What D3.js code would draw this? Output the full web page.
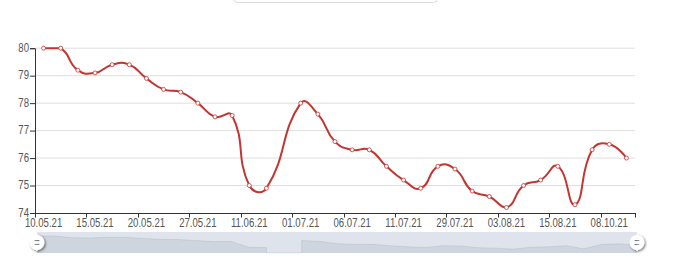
<!DOCTYPE html>
<html>
<head>
<meta charset="utf-8">
<script src="https://cdnjs.cloudflare.com/ajax/libs/d3/7.8.5/d3.min.js"></script>
<style>
  html, body { margin: 0; padding: 0; background: #fff; }
  svg { display: block; }
  .lbl { font-family: "Liberation Sans", Arial, sans-serif; fill: #555; }
</style>
</head>
<body>
<div id="chart"></div>
<script>

// category labels (dates) and values, index 14 has no value
var dates = [
    "10.05.21", "11.05.21", "13.05.21", "15.05.21", "17.05.21", "18.05.21",
    "20.05.21", "22.05.21", "25.05.21", "27.05.21", "01.06.21", "07.06.21",
    "11.06.21", "15.06.21", "24.06.21", "01.07.21", "03.07.21", "05.07.21",
    "06.07.21", "08.07.21", "09.07.21", "11.07.21", "19.07.21", "26.07.21",
    "29.07.21", "30.07.21", "01.08.21", "03.08.21", "07.08.21", "12.08.21",
    "15.08.21", "20.08.21", "27.09.21", "08.10.21", "12.10.21"
];
var values = [
    80, 80, 79.2, 79.1, 79.4, 79.4,
    78.9, 78.5, 78.4, 78.0, 77.5, 77.55,
    75.0, 74.9, null, 78.0, 77.6, 76.6,
    76.3, 76.3, 75.7, 75.2, 74.9, 75.7,
    75.6, 74.8, 74.6, 74.2, 75.0, 75.2,
    75.7, 74.3, 76.3, 76.5, 76.0
];
var yTicks = [74, 75, 76, 77, 78, 79, 80];
var labelEvery = 3;

var W = 680, H = 256,
    gLeft = 35, gRight = 635, gTop = 48.2, gBottom = 213,
    lineColor = "#c23531",
    squeeze = 0.8;

var svg = d3.select("#chart").append("svg")
    .attr("width", W)
    .attr("height", H);

var defs = svg.append("defs");
var f = defs.append("filter").attr("id", "hshadow")
    .attr("x", "-50%").attr("y", "-50%").attr("width", "200%").attr("height", "200%");
f.append("feDropShadow")
    .attr("dx", 1.5).attr("dy", 1.5).attr("stdDeviation", 1.3)
    .attr("flood-color", "#000").attr("flood-opacity", 0.55);

// box cut off at the top of the picture
svg.append("rect")
    .attr("x", 233.5).attr("y", -20).attr("width", 204).attr("height", 22.5)
    .attr("rx", 4)
    .attr("fill", "#fff").attr("stroke", "#dcdcdc");

var x = d3.scaleBand()
    .domain(d3.range(dates.length))
    .range([gLeft, gRight])
    .padding(0);

var y = d3.scaleLinear()
    .domain([74, 80])
    .range([gBottom, gTop]);

// grid lines
svg.append("g").selectAll("line")
    .data(yTicks.filter(function (d) { return d != 74; }))
    .enter().append("line")
    .attr("x1", gLeft).attr("x2", gRight)
    .attr("y1", function (d) { return y(d); })
    .attr("y2", function (d) { return y(d); })
    .attr("stroke", "#dedede")
    .attr("stroke-width", 1);

// y axis
var yAxis = d3.axisLeft(y).tickValues(yTicks).tickSize(5).tickFormat(function () { return ""; });
var gy = svg.append("g")
    .attr("transform", "translate(" + gLeft + ",0)")
    .call(yAxis);
gy.select(".domain").attr("stroke", "#333");
gy.selectAll(".tick line").attr("stroke", "#333");
svg.append("g").selectAll("g")
    .data(yTicks)
    .enter().append("g")
    .attr("transform", function (d) { return "translate(" + (gLeft - 6) + "," + (y(d) - 0.5) + ") scale(" + squeeze + ",1)"; })
    .append("text")
    .attr("class", "lbl")
    .attr("text-anchor", "end")
    .attr("dy", "0.35em")
    .style("font-size", "12px")
    .text(function (d) { return d; });

// x axis: ticks on band boundaries, labels in band centers
var boundaries = d3.range(0, dates.length, labelEvery).map(function (i) { return x(i); });
boundaries.push(gRight);
var gx = svg.append("g");
gx.append("line")
    .attr("x1", gLeft).attr("x2", gRight)
    .attr("y1", gBottom + 0.5).attr("y2", gBottom + 0.5)
    .attr("stroke", "#333");
gx.selectAll(".tk").data(boundaries).enter().append("line")
    .attr("class", "tk")
    .attr("x1", function (d) { return Math.round(d) + 0.5; })
    .attr("x2", function (d) { return Math.round(d) + 0.5; })
    .attr("y1", gBottom).attr("y2", gBottom + 4.5)
    .attr("stroke", "#333");
gx.selectAll("g.xl")
    .data(d3.range(0, dates.length, labelEvery))
    .enter().append("g")
    .attr("class", "xl")
    .attr("transform", function (i) { return "translate(" + (x(i) + x.bandwidth() / 2) + "," + (gBottom + 14) + ") scale(" + squeeze + ",1)"; })
    .append("text")
    .attr("class", "lbl")
    .attr("text-anchor", "middle")
    .style("font-size", "12px")
    .text(function (i) { return dates[i]; });

// points in pixels, nulls skipped (connectNulls)
var pts = [];
values.forEach(function (v, i) {
    if (v != null) pts.push([x(i) + x.bandwidth() / 2, y(v), i]);
});

// smooth curve like echarts (smooth 0.5, bounding box constraint)
function smoothPath(p, smooth) {
    var minX = d3.min(p, function (d) { return d[0]; }), maxX = d3.max(p, function (d) { return d[0]; }),
        minY = d3.min(p, function (d) { return d[1]; }), maxY = d3.max(p, function (d) { return d[1]; });
    function clamp(c) {
        return [Math.max(minX, Math.min(maxX, c[0])), Math.max(minY, Math.min(maxY, c[1]))];
    }
    var path = d3.path();
    path.moveTo(p[0][0], p[0][1]);
    var cp0 = [p[0][0], p[0][1]];
    for (var k = 1; k < p.length; k++) {
        var cur = p[k], prev = p[k - 1], next = p[k + 1];
        var cp1, v = [0, 0], ratio = 0.5;
        if (!next) {
            cp1 = [cur[0], cur[1]];
        } else {
            v = [next[0] - prev[0], next[1] - prev[1]];
            var l0 = Math.hypot(cur[0] - prev[0], cur[1] - prev[1]);
            var l1 = Math.hypot(next[0] - cur[0], next[1] - cur[1]);
            ratio = l1 / (l0 + l1);
            cp1 = [cur[0] - v[0] * smooth * (1 - ratio), cur[1] - v[1] * smooth * (1 - ratio)];
        }
        cp0 = clamp(cp0);
        cp1 = clamp(cp1);
        path.bezierCurveTo(cp0[0], cp0[1], cp1[0], cp1[1], cur[0], cur[1]);
        cp0 = [cur[0] + v[0] * smooth * ratio, cur[1] + v[1] * smooth * ratio];
    }
    return path.toString();
}

svg.append("path")
    .attr("d", smoothPath(pts, 0.5))
    .attr("fill", "none")
    .attr("stroke", lineColor)
    .attr("stroke-width", 2);

svg.append("g").selectAll("circle")
    .data(pts)
    .enter().append("circle")
    .attr("cx", function (d) { return d[0]; })
    .attr("cy", function (d) { return d[1]; })
    .attr("r", 2)
    .attr("fill", "#fff")
    .attr("stroke", lineColor)
    .attr("stroke-width", 0.8);

// data zoom slider
var sl = {x0: 37, x1: 637, y0: 232, y1: 253};
var slider = svg.append("g");
slider.append("rect")
    .attr("x", sl.x0).attr("y", sl.y0)
    .attr("width", sl.x1 - sl.x0).attr("height", sl.y1 - sl.y0)
    .attr("fill", "#dfe4ec");

var ext = d3.extent(values.filter(function (v) { return v != null; }));
var pad = (ext[1] - ext[0]) * 0.3;
var sx = d3.scaleLinear().domain([0, values.length - 1]).range([sl.x0, sl.x1]);
var sy = d3.scaleLinear().domain([ext[0] - pad, ext[1] + pad]).range([sl.y1, sl.y0]);

// empty values drop to the bottom of the slider
var shadow = [];
values.forEach(function (v, i) {
    var last = shadow.length ? shadow[shadow.length - 1] : null;
    var empty = v == null;
    var prevEmpty = i > 0 && values[i - 1] == null;
    if (empty && !prevEmpty && i) shadow.push([last[0], sl.y1]);
    else if (!empty && prevEmpty) shadow.push([sx(i), sl.y1]);
    shadow.push([sx(i), empty ? sl.y1 : sy(v)]);
});
var area = [[sl.x0, sl.y1]].concat(shadow, [[sl.x1, sl.y1]]);
slider.append("path")
    .attr("d", d3.line()(area) + "Z")
    .attr("fill", "rgba(47,69,84,0.09)");
slider.append("path")
    .attr("d", d3.line()(shadow))
    .attr("fill", "none")
    .attr("stroke", "rgba(47,69,84,0.12)")
    .attr("stroke-width", 0.8);

var handleIcon = "M10.7,11.9v-1.3H9.3v1.3c-4.9,0.3-8.8,4.4-8.8,9.4c0,5,3.9,9.1,8.8,9.4v1.3h1.3v-1.3c4.9-0.3,8.8-4.4,8.8-9.4C19.5,16.3,15.6,12.2,10.7,11.9z M13.3,24.4H6.7V23h6.6V24.4z M13.3,19.6H6.7v-1.4h6.6V19.6z";
[sl.x0, sl.x1].forEach(function (hx) {
    slider.append("path")
        .attr("d", handleIcon)
        .attr("fill", "#fff")
        .attr("fill-rule", "evenodd")
        .attr("filter", "url(#hshadow)")
        .attr("transform", "translate(" + hx + "," + ((sl.y0 + sl.y1) / 2) + ") scale(0.785) translate(-10,-21.3)");
});

</script>
</body>
</html>
